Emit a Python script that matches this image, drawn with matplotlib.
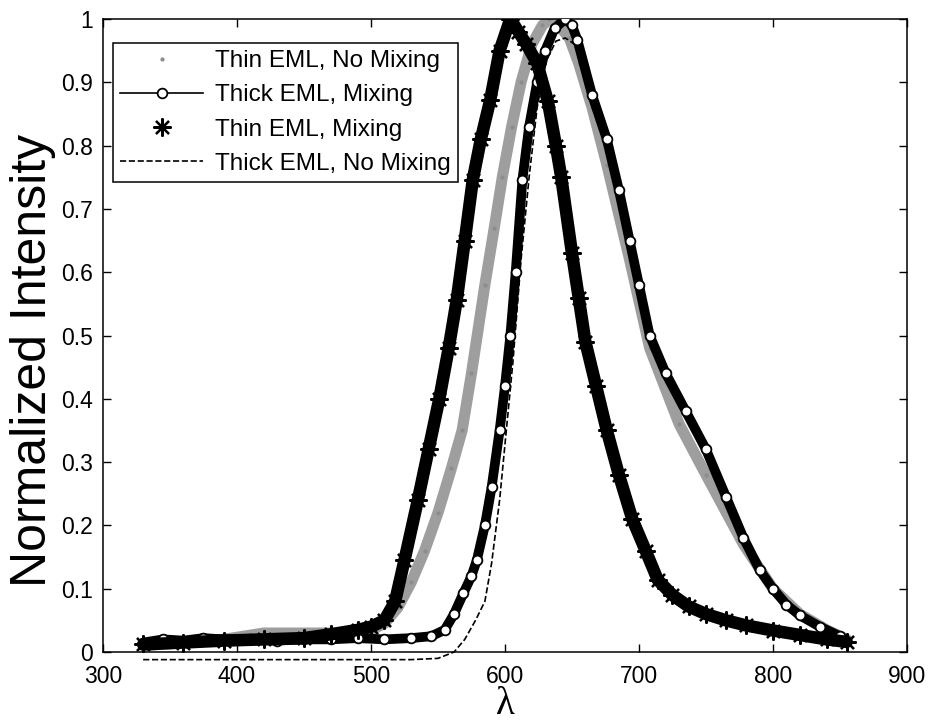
import matplotlib
matplotlib.use('Agg')
import matplotlib.pyplot as plt
from matplotlib.ticker import FuncFormatter

# Thin EML, No Mixing (grey)
lam_tn = [330, 360, 390, 420, 450, 480, 500, 510, 520, 530, 540, 550, 560, 568, 575, 585, 592, 598, 605,
          612, 620, 628, 633, 640, 648, 655, 665, 676, 693, 708, 730, 750, 778, 800, 820, 840, 855]
int_tn = [0.01, 0.015, 0.02, 0.03, 0.03, 0.03, 0.035, 0.045, 0.07, 0.11, 0.16, 0.22, 0.29, 0.35, 0.44, 0.58,
          0.67, 0.75, 0.83, 0.90, 0.96, 0.99, 1.0, 0.99, 0.97, 0.93, 0.86, 0.77, 0.62, 0.48, 0.36, 0.28, 0.17,
          0.10, 0.06, 0.035, 0.02]

# Thick EML, Mixing (circles)
lam_km = [330, 345, 360, 375, 390, 410, 430, 450, 470, 490, 510, 530, 545, 555, 562, 569, 575, 579, 585, 590,
          596, 600, 604, 608, 613, 618, 624, 630, 637, 645, 650, 654, 665, 676, 685, 693, 700, 708, 720, 735,
          750, 765, 778, 790, 800, 810, 820, 835, 850]
int_km = [0.015, 0.02, 0.018, 0.022, 0.02, 0.02, 0.018, 0.02, 0.02, 0.022, 0.02, 0.022, 0.025, 0.035, 0.06,
          0.093, 0.12, 0.145, 0.20, 0.26, 0.35, 0.42, 0.50, 0.60, 0.746, 0.83, 0.90, 0.95, 0.985, 1.0, 0.99,
          0.967, 0.88, 0.81, 0.73, 0.65, 0.58, 0.50, 0.44, 0.38, 0.32, 0.245, 0.18, 0.13, 0.10, 0.075, 0.058,
          0.04, 0.025]

# Thin EML, Mixing (asterisks)
lam_tm = [330, 360, 390, 420, 450, 470, 490, 500, 510, 518, 525, 535, 543, 551, 558, 564, 570, 576, 582, 589,
          596, 604, 610, 616, 624, 632, 638, 642, 650, 655, 660, 668, 676, 685, 695, 705, 714, 725, 737, 750,
          765, 780, 800, 820, 840, 855]
int_tm = [0.012, 0.015, 0.018, 0.02, 0.022, 0.028, 0.035, 0.04, 0.05, 0.08, 0.145, 0.24, 0.32, 0.40, 0.48,
          0.556, 0.65, 0.746, 0.81, 0.872, 0.95, 1.0, 0.98, 0.96, 0.93, 0.87, 0.80, 0.75, 0.63, 0.56, 0.49,
          0.42, 0.35, 0.28, 0.21, 0.16, 0.114, 0.09, 0.072, 0.06, 0.05, 0.042, 0.034, 0.027, 0.02, 0.016]

# Thick EML, No Mixing (dashed)
lam_kn = [330, 380, 430, 480, 530, 550, 562, 570, 578, 585, 590, 596, 601, 606, 612, 618, 624, 630, 638, 645,
          652, 660, 670, 680, 693, 708, 725, 750, 778, 800, 820, 840, 855]
int_kn = [-0.012, -0.012, -0.012, -0.012, -0.012, -0.01, 0.0, 0.02, 0.05, 0.08, 0.14, 0.24, 0.35, 0.46, 0.62,
          0.75, 0.86, 0.93, 0.965, 0.97, 0.96, 0.92, 0.86, 0.79, 0.66, 0.51, 0.41, 0.32, 0.18, 0.10, 0.06,
          0.035, 0.02]

x_ticks = [300, 400, 500, 600, 700, 800, 900]
y_ticks = [0, 0.1, 0.2, 0.3, 0.4, 0.5, 0.6, 0.7, 0.8, 0.9, 1.0]

plt.rcParams['font.family'] = ['Liberation Sans', 'DejaVu Sans']

fig = plt.figure(figsize=(9.31, 7.24), dpi=100)
ax = fig.add_axes([0.1106, 0.0994, 0.8636, 0.8744])

# grey band
ax.plot(lam_tn, int_tn, '-', color='0.62', lw=8, solid_capstyle='round', zorder=1)
h_tn, = ax.plot(lam_tn, int_tn, '.', color='0.55', ms=4, zorder=1.1, label='Thin EML, No Mixing')

h_kn, = ax.plot(lam_kn, int_kn, '--', color='k', lw=1.2, clip_on=False, zorder=2,
                label='Thick EML, No Mixing')

# circles
ax.plot(lam_km, int_km, '-', color='k', lw=7, solid_capstyle='round', zorder=3)
h_km, = ax.plot(lam_km, int_km, '-o', color='k', lw=1.2, ms=7, mfc='white', mew=1.3, zorder=3.1,
                label='Thick EML, Mixing')

# asterisks
ax.plot(lam_tm, int_tm, '-', color='k', lw=9, solid_capstyle='round', zorder=4)
h_tm, = ax.plot(lam_tm, int_tm, ls='none', marker=(8, 2, 0), color='k', ms=13, mew=1.6, zorder=4.1,
                label='Thin EML, Mixing')

ax.set_xlim(300, 900)
ax.set_ylim(0, 1)
ax.set_xticks(x_ticks)
ax.set_yticks(y_ticks)
ax.yaxis.set_major_formatter(FuncFormatter(lambda v, p: '%g' % round(v, 1)))
ax.tick_params(direction='in', top=True, right=True, length=6, width=1, labelsize=16.5)
ax.tick_params(axis='x', pad=9)
ax.tick_params(axis='y', pad=7)
for s in ax.spines.values():
    s.set_linewidth(1.1)

ax.set_ylabel('Normalized Intensity', fontsize=36)
ax.yaxis.set_label_coords(-0.059, 0.46)
ax.set_xlabel('λ', fontsize=28, family=['Liberation Serif', 'DejaVu Serif'])
ax.xaxis.set_label_coords(0.5, -0.053)

leg = ax.legend(handles=[h_tn, h_km, h_tm, h_kn], loc='upper left', bbox_to_anchor=(0.0124, 0.962),
                borderaxespad=0, fontsize=17.5, frameon=True, fancybox=False, edgecolor='k', framealpha=1,
                handlelength=3.4, handletextpad=0.5, labelspacing=0.5, borderpad=0.3)
leg.get_frame().set_linewidth(1.1)
leg.set_zorder(10)

fig.savefig('out.png', dpi=100)
